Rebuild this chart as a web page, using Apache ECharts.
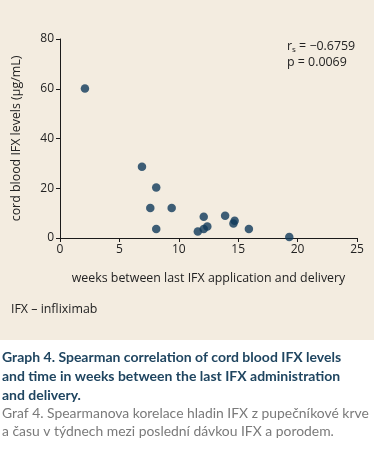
<!DOCTYPE html>
<html><head><meta charset="utf-8">
<script src="https://cdn.jsdelivr.net/npm/echarts@6/dist/echarts.min.js"></script>
<style>html,body{margin:0;padding:0;background:#fff}#c{width:374px;height:456px}</style>
</head><body><div id="c"></div>
<script>
const weeks = [2.1, 6.9, 8.1, 7.6, 9.4, 8.1, 12.1, 11.6, 12.1, 12.4, 13.9, 14.7, 14.6, 15.9, 19.3];
const levels = [60.1, 28.6, 20.3, 12.1, 12.1, 3.6, 8.5, 2.6, 3.6, 4.6, 8.9, 6.9, 5.8, 3.6, 0.4];
const xTicks = [0, 5, 10, 15, 20, 25];
const yTicks = [0, 20, 40, 60, 80];

const chart = echarts.init(document.getElementById('c'), null, {renderer: 'canvas'});
const F = '"Open Sans", "Noto Sans", sans-serif';
const C = 'Lato, "Open Sans", sans-serif';
const axisCol = '#1a1a1a';
chart.setOption({
  backgroundColor: '#ffffff',
  animation: false,
  grid: {left: 60, right: 17, top: 39, bottom: 218},
  xAxis: {
    type: 'value', min: xTicks[0], max: xTicks[xTicks.length - 1], interval: 5,
    name: 'weeks between last IFX application and delivery',
    nameLocation: 'middle', nameGap: 34,
    nameTextStyle: {fontFamily: F, fontSize: 12.4, color: '#222'},
    axisLine: {lineStyle: {color: axisCol, width: 1}},
    axisTick: {show: true, length: 4, lineStyle: {color: axisCol}},
    axisLabel: {fontFamily: F, fontSize: 12, color: '#222', margin: 6},
    splitLine: {show: false}
  },
  yAxis: {
    type: 'value', min: yTicks[0], max: yTicks[yTicks.length - 1], interval: 20,
    name: 'cord blood IFX levels (µg/mL)',
    nameLocation: 'middle', nameGap: 38,
    nameTextStyle: {fontFamily: F, fontSize: 12.4, color: '#222'},
    axisLine: {show: true, lineStyle: {color: axisCol, width: 1}},
    axisTick: {show: true, length: 4, lineStyle: {color: axisCol}},
    axisLabel: {fontFamily: F, fontSize: 12, color: '#222', margin: 6},
    splitLine: {show: false}
  },
  graphic: [
    {type: 'rect', z: -10, shape: {x: 0, y: 0, width: 374, height: 340}, style: {fill: '#f3ece0'}, silent: true},
    {type: 'text', left: 287, top: 40, style: {
      text: '{a|r}{s|s}{a| = −0.6759}\n{a|p = 0.0069}',
      rich: {a: {fontFamily: F, fontSize: 12.4, fill: '#222', lineHeight: 16},
             s: {fontFamily: F, fontSize: 8, fill: '#222', verticalAlign: 'bottom', padding: [6, 0, 0, 0], lineHeight: 16}}
    }},
    {type: 'text', left: 11, top: 303, style: {text: 'IFX – infliximab', fontFamily: F, fontSize: 12.4, fill: '#222'}},
    {type: 'text', left: 2, top: 348, style: {
      text: 'Graph 4. Spearman correlation of cord blood IFX levels\nand time in weeks between the last IFX administration\nand delivery.',
      fontFamily: C, fontSize: 14, fontWeight: 'bold', fill: '#1f4560', lineHeight: 19}},
    {type: 'text', left: 2, top: 405, style: {
      text: 'Graf 4. Spearmanova korelace hladin IFX z pupečníkové krve\na času v týdnech mezi poslední dávkou IFX a porodem.',
      fontFamily: C, fontSize: 13.9, fill: '#7a7a7a', lineHeight: 18}}
  ],
  series: [{
    type: 'scatter',
    data: weeks.map((w, i) => [w, levels[i]]),
    symbolSize: 8.5,
    itemStyle: {color: '#0f3a5a'}
  }]
});
</script></body></html>
